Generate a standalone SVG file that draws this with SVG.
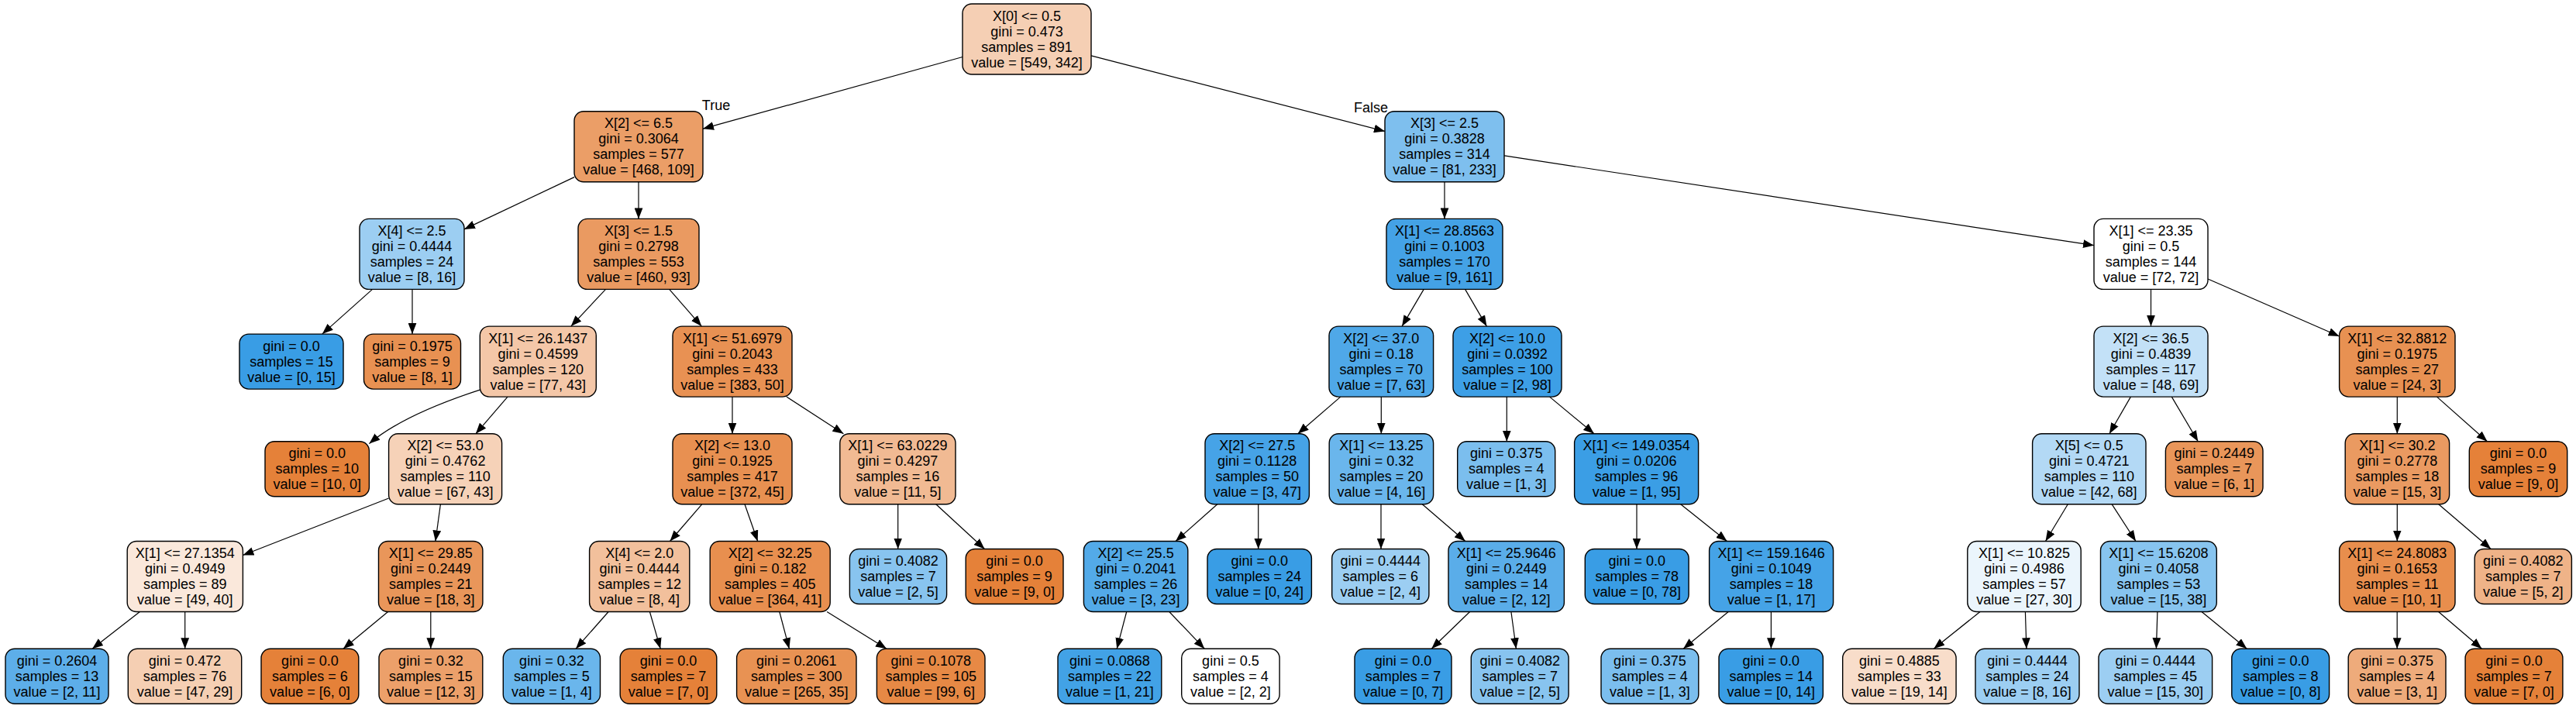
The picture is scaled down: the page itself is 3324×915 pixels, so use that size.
<svg xmlns="http://www.w3.org/2000/svg" width="3324" height="915" viewBox="0 0 3324 915">
<style>
.node rect{stroke:#000;stroke-width:1.4}
text{font-family:"Liberation Sans",Arial,Helvetica,sans-serif;font-size:18px;text-anchor:middle;fill:#000}
.edge line,.edge path{stroke:#000;stroke-width:1.2;fill:none;marker-end:url(#arr)}
</style>
<defs>
<marker id="arr" markerUnits="userSpaceOnUse" markerWidth="14" markerHeight="11" viewBox="0 0 13 10" refX="13" refY="5" orient="auto"><path d="M0,0 L13,5 L0,10 z" fill="#000"/></marker>
</defs>
<rect x="0" y="0" width="3324" height="915" fill="#fff"/>
<g id="connectors" class="edge">
<line x1="1242" y1="73.5" x2="907" y2="166.2"/>
<line x1="1408" y1="71.9" x2="1787" y2="169.4"/>
<line x1="741" y1="228.6" x2="599" y2="295.9"/>
<line x1="824" y1="234.7" x2="824" y2="282.4"/>
<line x1="1864" y1="234.7" x2="1864" y2="282.4"/>
<line x1="1941" y1="200.9" x2="2702" y2="316.7"/>
<line x1="480.5" y1="373.4" x2="415.8" y2="431.1"/>
<line x1="532" y1="373.4" x2="532" y2="431.1"/>
<line x1="781.5" y1="373.4" x2="736.8" y2="421.1"/>
<line x1="863.7" y1="373.4" x2="905.3" y2="421.1"/>
<line x1="1837.2" y1="373.4" x2="1809.1" y2="421.1"/>
<line x1="1890.6" y1="373.4" x2="1918.4" y2="421.1"/>
<line x1="2775.5" y1="373.4" x2="2775.5" y2="421.1"/>
<line x1="2849" y1="360" x2="3018.6" y2="434"/>
<path d="M619.3,503.1 Q519.9,535.5 476.4,572.6"/>
<line x1="655" y1="512.1" x2="613.9" y2="559.8"/>
<line x1="945" y1="512.1" x2="945" y2="559.8"/>
<line x1="1015" y1="512.1" x2="1088.4" y2="559.8"/>
<line x1="1729.8" y1="512.1" x2="1674.7" y2="559.8"/>
<line x1="1782.3" y1="512.1" x2="1782.3" y2="559.8"/>
<line x1="1944.3" y1="512.1" x2="1944.3" y2="569.8"/>
<line x1="1999.6" y1="512.1" x2="2057" y2="559.8"/>
<line x1="2749.4" y1="512.1" x2="2721.9" y2="559.8"/>
<line x1="2802.3" y1="512.1" x2="2836.3" y2="569.8"/>
<line x1="3093.3" y1="512.1" x2="3093.3" y2="559.8"/>
<line x1="3144.5" y1="512.1" x2="3209.5" y2="569.8"/>
<line x1="501.6" y1="643" x2="313.4" y2="716.5"/>
<line x1="568.4" y1="650.8" x2="561.9" y2="698.5"/>
<line x1="905.7" y1="650.8" x2="864.5" y2="698.5"/>
<line x1="961" y1="650.8" x2="977.7" y2="698.5"/>
<line x1="1158.7" y1="650.8" x2="1158.7" y2="708.5"/>
<line x1="1207.8" y1="650.8" x2="1270.5" y2="708.5"/>
<line x1="1570.8" y1="650.8" x2="1517" y2="698.5"/>
<line x1="1623.7" y1="650.8" x2="1623.7" y2="708.5"/>
<line x1="1782" y1="650.8" x2="1782" y2="708.5"/>
<line x1="1835.3" y1="650.8" x2="1890.8" y2="698.5"/>
<line x1="2112" y1="650.8" x2="2112" y2="708.5"/>
<line x1="2168.7" y1="650.8" x2="2228.5" y2="698.5"/>
<line x1="2668.3" y1="650.8" x2="2639.5" y2="698.5"/>
<line x1="2725.2" y1="650.8" x2="2756" y2="698.5"/>
<line x1="3093.3" y1="650.8" x2="3093.3" y2="698.5"/>
<line x1="3146.7" y1="650.8" x2="3214.2" y2="708.5"/>
<line x1="180.4" y1="789.5" x2="119.1" y2="837.2"/>
<line x1="238.7" y1="789.5" x2="238.7" y2="837.2"/>
<line x1="500.6" y1="789.5" x2="442.9" y2="837.2"/>
<line x1="555.8" y1="789.5" x2="555.8" y2="837.2"/>
<line x1="785.1" y1="789.5" x2="743.1" y2="837.2"/>
<line x1="838.4" y1="789.5" x2="852.2" y2="837.2"/>
<line x1="1005.8" y1="789.5" x2="1018.4" y2="837.2"/>
<line x1="1067.1" y1="789.5" x2="1144" y2="837.2"/>
<line x1="1453.7" y1="789.5" x2="1441.2" y2="837.2"/>
<line x1="1508.8" y1="789.5" x2="1554.2" y2="837.2"/>
<line x1="1896.6" y1="789.5" x2="1847.2" y2="837.2"/>
<line x1="1949.9" y1="789.5" x2="1956.4" y2="837.2"/>
<line x1="2230.2" y1="789.5" x2="2172.1" y2="837.2"/>
<line x1="2285.4" y1="789.5" x2="2285.4" y2="837.2"/>
<line x1="2555" y1="789.5" x2="2495.3" y2="837.2"/>
<line x1="2613.4" y1="789.5" x2="2614.9" y2="837.2"/>
<line x1="2783.9" y1="789.5" x2="2782.4" y2="837.2"/>
<line x1="2841" y1="789.5" x2="2899.3" y2="837.2"/>
<line x1="3093.2" y1="789.5" x2="3093.2" y2="837.2"/>
<line x1="3146.6" y1="789.5" x2="3202.4" y2="837.2"/>
</g>
<g id="edge-labels">
<text x="924" y="141.5">True</text>
<text x="1769" y="144.5">False</text>
</g>
<g id="n0" class="node" transform="translate(1325,5)"><rect x="-83" y="0" width="166" height="91" rx="12" fill="#f5cfb4"/><text><tspan x="0" y="21.5">X[0] &lt;= 0.5</tspan><tspan x="0" y="41.5">gini = 0.473</tspan><tspan x="0" y="61.5">samples = 891</tspan><tspan x="0" y="81.5">value = [549, 342]</tspan></text></g>
<g id="n1" class="node" transform="translate(824,143.7)"><rect x="-83" y="0" width="166" height="91" rx="12" fill="#eb9e67"/><text><tspan x="0" y="21.5">X[2] &lt;= 6.5</tspan><tspan x="0" y="41.5">gini = 0.3064</tspan><tspan x="0" y="61.5">samples = 577</tspan><tspan x="0" y="81.5">value = [468, 109]</tspan></text></g>
<g id="n2" class="node" transform="translate(1864,143.7)"><rect x="-77" y="0" width="154" height="91" rx="12" fill="#7ebfee"/><text><tspan x="0" y="21.5">X[3] &lt;= 2.5</tspan><tspan x="0" y="41.5">gini = 0.3828</tspan><tspan x="0" y="61.5">samples = 314</tspan><tspan x="0" y="81.5">value = [81, 233]</tspan></text></g>
<g id="n3" class="node" transform="translate(531.5,282.4)"><rect x="-67.5" y="0" width="135" height="91" rx="12" fill="#9ccef2"/><text><tspan x="0" y="21.5">X[4] &lt;= 2.5</tspan><tspan x="0" y="41.5">gini = 0.4444</tspan><tspan x="0" y="61.5">samples = 24</tspan><tspan x="0" y="81.5">value = [8, 16]</tspan></text></g>
<g id="n4" class="node" transform="translate(824,282.4)"><rect x="-78" y="0" width="156" height="91" rx="12" fill="#ea9a61"/><text><tspan x="0" y="21.5">X[3] &lt;= 1.5</tspan><tspan x="0" y="41.5">gini = 0.2798</tspan><tspan x="0" y="61.5">samples = 553</tspan><tspan x="0" y="81.5">value = [460, 93]</tspan></text></g>
<g id="n5" class="node" transform="translate(1864,282.4)"><rect x="-75" y="0" width="150" height="91" rx="12" fill="#44a2e6"/><text><tspan x="0" y="21.5">X[1] &lt;= 28.8563</tspan><tspan x="0" y="41.5">gini = 0.1003</tspan><tspan x="0" y="61.5">samples = 170</tspan><tspan x="0" y="81.5">value = [9, 161]</tspan></text></g>
<g id="n6" class="node" transform="translate(2775.5,282.4)"><rect x="-73.5" y="0" width="147" height="91" rx="12" fill="#ffffff"/><text><tspan x="0" y="21.5">X[1] &lt;= 23.35</tspan><tspan x="0" y="41.5">gini = 0.5</tspan><tspan x="0" y="61.5">samples = 144</tspan><tspan x="0" y="81.5">value = [72, 72]</tspan></text></g>
<g id="n7" class="node" transform="translate(376,431.1)"><rect x="-67" y="0" width="134" height="71" rx="12" fill="#399de5"/><text><tspan x="0" y="21.5">gini = 0.0</tspan><tspan x="0" y="41.5">samples = 15</tspan><tspan x="0" y="61.5">value = [0, 15]</tspan></text></g>
<g id="n8" class="node" transform="translate(532,431.1)"><rect x="-62.5" y="0" width="125" height="71" rx="12" fill="#e89152"/><text><tspan x="0" y="21.5">gini = 0.1975</tspan><tspan x="0" y="41.5">samples = 9</tspan><tspan x="0" y="61.5">value = [8, 1]</tspan></text></g>
<g id="n9" class="node" transform="translate(694.3,421.1)"><rect x="-75" y="0" width="150" height="91" rx="12" fill="#f4c7a8"/><text><tspan x="0" y="21.5">X[1] &lt;= 26.1437</tspan><tspan x="0" y="41.5">gini = 0.4599</tspan><tspan x="0" y="61.5">samples = 120</tspan><tspan x="0" y="81.5">value = [77, 43]</tspan></text></g>
<g id="n10" class="node" transform="translate(945,421.1)"><rect x="-77" y="0" width="154" height="91" rx="12" fill="#e89153"/><text><tspan x="0" y="21.5">X[1] &lt;= 51.6979</tspan><tspan x="0" y="41.5">gini = 0.2043</tspan><tspan x="0" y="61.5">samples = 433</tspan><tspan x="0" y="81.5">value = [383, 50]</tspan></text></g>
<g id="n11" class="node" transform="translate(1782.3,421.1)"><rect x="-67.3" y="0" width="134.6" height="91" rx="12" fill="#4fa8e8"/><text><tspan x="0" y="21.5">X[2] &lt;= 37.0</tspan><tspan x="0" y="41.5">gini = 0.18</tspan><tspan x="0" y="61.5">samples = 70</tspan><tspan x="0" y="81.5">value = [7, 63]</tspan></text></g>
<g id="n12" class="node" transform="translate(1945,421.1)"><rect x="-70" y="0" width="140" height="91" rx="12" fill="#3d9fe6"/><text><tspan x="0" y="21.5">X[2] &lt;= 10.0</tspan><tspan x="0" y="41.5">gini = 0.0392</tspan><tspan x="0" y="61.5">samples = 100</tspan><tspan x="0" y="81.5">value = [2, 98]</tspan></text></g>
<g id="n13" class="node" transform="translate(2775.5,421.1)"><rect x="-73.5" y="0" width="147" height="91" rx="12" fill="#c3e1f7"/><text><tspan x="0" y="21.5">X[2] &lt;= 36.5</tspan><tspan x="0" y="41.5">gini = 0.4839</tspan><tspan x="0" y="61.5">samples = 117</tspan><tspan x="0" y="81.5">value = [48, 69]</tspan></text></g>
<g id="n14" class="node" transform="translate(3093.3,421.1)"><rect x="-74.7" y="0" width="149.4" height="91" rx="12" fill="#e89152"/><text><tspan x="0" y="21.5">X[1] &lt;= 32.8812</tspan><tspan x="0" y="41.5">gini = 0.1975</tspan><tspan x="0" y="61.5">samples = 27</tspan><tspan x="0" y="81.5">value = [24, 3]</tspan></text></g>
<g id="n15" class="node" transform="translate(409.2,569.8)"><rect x="-67.2" y="0" width="134.4" height="71" rx="12" fill="#e58139"/><text><tspan x="0" y="21.5">gini = 0.0</tspan><tspan x="0" y="41.5">samples = 10</tspan><tspan x="0" y="61.5">value = [10, 0]</tspan></text></g>
<g id="n16" class="node" transform="translate(574.6,559.8)"><rect x="-73" y="0" width="146" height="91" rx="12" fill="#f6d2b8"/><text><tspan x="0" y="21.5">X[2] &lt;= 53.0</tspan><tspan x="0" y="41.5">gini = 0.4762</tspan><tspan x="0" y="61.5">samples = 110</tspan><tspan x="0" y="81.5">value = [67, 43]</tspan></text></g>
<g id="n17" class="node" transform="translate(945,559.8)"><rect x="-77" y="0" width="154" height="91" rx="12" fill="#e89051"/><text><tspan x="0" y="21.5">X[2] &lt;= 13.0</tspan><tspan x="0" y="41.5">gini = 0.1925</tspan><tspan x="0" y="61.5">samples = 417</tspan><tspan x="0" y="81.5">value = [372, 45]</tspan></text></g>
<g id="n18" class="node" transform="translate(1158.4,559.8)"><rect x="-74.6" y="0" width="149.2" height="91" rx="12" fill="#f1ba93"/><text><tspan x="0" y="21.5">X[1] &lt;= 63.0229</tspan><tspan x="0" y="41.5">gini = 0.4297</tspan><tspan x="0" y="61.5">samples = 16</tspan><tspan x="0" y="81.5">value = [11, 5]</tspan></text></g>
<g id="n19" class="node" transform="translate(1622.2,559.8)"><rect x="-67.2" y="0" width="134.4" height="91" rx="12" fill="#46a3e7"/><text><tspan x="0" y="21.5">X[2] &lt;= 27.5</tspan><tspan x="0" y="41.5">gini = 0.1128</tspan><tspan x="0" y="61.5">samples = 50</tspan><tspan x="0" y="81.5">value = [3, 47]</tspan></text></g>
<g id="n20" class="node" transform="translate(1782.4,559.8)"><rect x="-67.2" y="0" width="134.4" height="91" rx="12" fill="#6ab6ec"/><text><tspan x="0" y="21.5">X[1] &lt;= 13.25</tspan><tspan x="0" y="41.5">gini = 0.32</tspan><tspan x="0" y="61.5">samples = 20</tspan><tspan x="0" y="81.5">value = [4, 16]</tspan></text></g>
<g id="n21" class="node" transform="translate(1943.7,569.8)"><rect x="-63" y="0" width="126" height="71" rx="12" fill="#7bbeee"/><text><tspan x="0" y="21.5">gini = 0.375</tspan><tspan x="0" y="41.5">samples = 4</tspan><tspan x="0" y="61.5">value = [1, 3]</tspan></text></g>
<g id="n22" class="node" transform="translate(2111.6,559.8)"><rect x="-80" y="0" width="160" height="91" rx="12" fill="#3b9ee5"/><text><tspan x="0" y="21.5">X[1] &lt;= 149.0354</tspan><tspan x="0" y="41.5">gini = 0.0206</tspan><tspan x="0" y="61.5">samples = 96</tspan><tspan x="0" y="81.5">value = [1, 95]</tspan></text></g>
<g id="n23" class="node" transform="translate(2695.8,559.8)"><rect x="-73.2" y="0" width="146.4" height="91" rx="12" fill="#b3d9f5"/><text><tspan x="0" y="21.5">X[5] &lt;= 0.5</tspan><tspan x="0" y="41.5">gini = 0.4721</tspan><tspan x="0" y="61.5">samples = 110</tspan><tspan x="0" y="81.5">value = [42, 68]</tspan></text></g>
<g id="n24" class="node" transform="translate(2857.2,569.8)"><rect x="-62.8" y="0" width="125.6" height="71" rx="12" fill="#e9965a"/><text><tspan x="0" y="21.5">gini = 0.2449</tspan><tspan x="0" y="41.5">samples = 7</tspan><tspan x="0" y="61.5">value = [6, 1]</tspan></text></g>
<g id="n25" class="node" transform="translate(3093.4,559.8)"><rect x="-67.2" y="0" width="134.4" height="91" rx="12" fill="#ea9a61"/><text><tspan x="0" y="21.5">X[1] &lt;= 30.2</tspan><tspan x="0" y="41.5">gini = 0.2778</tspan><tspan x="0" y="61.5">samples = 18</tspan><tspan x="0" y="81.5">value = [15, 3]</tspan></text></g>
<g id="n26" class="node" transform="translate(3249.5,569.8)"><rect x="-63.2" y="0" width="126.4" height="71" rx="12" fill="#e58139"/><text><tspan x="0" y="21.5">gini = 0.0</tspan><tspan x="0" y="41.5">samples = 9</tspan><tspan x="0" y="61.5">value = [9, 0]</tspan></text></g>
<g id="n27" class="node" transform="translate(238.8,698.5)"><rect x="-74.6" y="0" width="149.2" height="91" rx="12" fill="#fae8db"/><text><tspan x="0" y="21.5">X[1] &lt;= 27.1354</tspan><tspan x="0" y="41.5">gini = 0.4949</tspan><tspan x="0" y="61.5">samples = 89</tspan><tspan x="0" y="81.5">value = [49, 40]</tspan></text></g>
<g id="n28" class="node" transform="translate(555.7,698.5)"><rect x="-67.2" y="0" width="134.4" height="91" rx="12" fill="#e9965a"/><text><tspan x="0" y="21.5">X[1] &lt;= 29.85</tspan><tspan x="0" y="41.5">gini = 0.2449</tspan><tspan x="0" y="61.5">samples = 21</tspan><tspan x="0" y="81.5">value = [18, 3]</tspan></text></g>
<g id="n29" class="node" transform="translate(825.2,698.5)"><rect x="-64.6" y="0" width="129.2" height="91" rx="12" fill="#f2c09c"/><text><tspan x="0" y="21.5">X[4] &lt;= 2.0</tspan><tspan x="0" y="41.5">gini = 0.4444</tspan><tspan x="0" y="61.5">samples = 12</tspan><tspan x="0" y="81.5">value = [8, 4]</tspan></text></g>
<g id="n30" class="node" transform="translate(993.7,698.5)"><rect x="-77.5" y="0" width="155" height="91" rx="12" fill="#e88f4f"/><text><tspan x="0" y="21.5">X[2] &lt;= 32.25</tspan><tspan x="0" y="41.5">gini = 0.182</tspan><tspan x="0" y="61.5">samples = 405</tspan><tspan x="0" y="81.5">value = [364, 41]</tspan></text></g>
<g id="n31" class="node" transform="translate(1159,708.5)"><rect x="-62.6" y="0" width="125.2" height="71" rx="12" fill="#88c4ef"/><text><tspan x="0" y="21.5">gini = 0.4082</tspan><tspan x="0" y="41.5">samples = 7</tspan><tspan x="0" y="61.5">value = [2, 5]</tspan></text></g>
<g id="n32" class="node" transform="translate(1309.1,708.5)"><rect x="-62.9" y="0" width="125.8" height="71" rx="12" fill="#e58139"/><text><tspan x="0" y="21.5">gini = 0.0</tspan><tspan x="0" y="41.5">samples = 9</tspan><tspan x="0" y="61.5">value = [9, 0]</tspan></text></g>
<g id="n33" class="node" transform="translate(1465.6,698.5)"><rect x="-67.2" y="0" width="134.4" height="91" rx="12" fill="#53aae8"/><text><tspan x="0" y="21.5">X[2] &lt;= 25.5</tspan><tspan x="0" y="41.5">gini = 0.2041</tspan><tspan x="0" y="61.5">samples = 26</tspan><tspan x="0" y="81.5">value = [3, 23]</tspan></text></g>
<g id="n34" class="node" transform="translate(1625.2,708.5)"><rect x="-67.2" y="0" width="134.4" height="71" rx="12" fill="#399de5"/><text><tspan x="0" y="21.5">gini = 0.0</tspan><tspan x="0" y="41.5">samples = 24</tspan><tspan x="0" y="61.5">value = [0, 24]</tspan></text></g>
<g id="n35" class="node" transform="translate(1781.3,708.5)"><rect x="-62.6" y="0" width="125.2" height="71" rx="12" fill="#9ccef2"/><text><tspan x="0" y="21.5">gini = 0.4444</tspan><tspan x="0" y="41.5">samples = 6</tspan><tspan x="0" y="61.5">value = [2, 4]</tspan></text></g>
<g id="n36" class="node" transform="translate(1943.7,698.5)"><rect x="-74.7" y="0" width="149.4" height="91" rx="12" fill="#5aade9"/><text><tspan x="0" y="21.5">X[1] &lt;= 25.9646</tspan><tspan x="0" y="41.5">gini = 0.2449</tspan><tspan x="0" y="61.5">samples = 14</tspan><tspan x="0" y="81.5">value = [2, 12]</tspan></text></g>
<g id="n37" class="node" transform="translate(2112.2,708.5)"><rect x="-66.9" y="0" width="133.8" height="71" rx="12" fill="#399de5"/><text><tspan x="0" y="21.5">gini = 0.0</tspan><tspan x="0" y="41.5">samples = 78</tspan><tspan x="0" y="61.5">value = [0, 78]</tspan></text></g>
<g id="n38" class="node" transform="translate(2285.6,698.5)"><rect x="-80" y="0" width="160" height="91" rx="12" fill="#45a3e7"/><text><tspan x="0" y="21.5">X[1] &lt;= 159.1646</tspan><tspan x="0" y="41.5">gini = 0.1049</tspan><tspan x="0" y="61.5">samples = 18</tspan><tspan x="0" y="81.5">value = [1, 17]</tspan></text></g>
<g id="n39" class="node" transform="translate(2612,698.5)"><rect x="-73.2" y="0" width="146.4" height="91" rx="12" fill="#ebf5fc"/><text><tspan x="0" y="21.5">X[1] &lt;= 10.825</tspan><tspan x="0" y="41.5">gini = 0.4986</tspan><tspan x="0" y="61.5">samples = 57</tspan><tspan x="0" y="81.5">value = [27, 30]</tspan></text></g>
<g id="n40" class="node" transform="translate(2785.4,698.5)"><rect x="-74.9" y="0" width="149.8" height="91" rx="12" fill="#87c4ef"/><text><tspan x="0" y="21.5">X[1] &lt;= 15.6208</tspan><tspan x="0" y="41.5">gini = 0.4058</tspan><tspan x="0" y="61.5">samples = 53</tspan><tspan x="0" y="81.5">value = [15, 38]</tspan></text></g>
<g id="n41" class="node" transform="translate(3093.3,698.5)"><rect x="-74.7" y="0" width="149.4" height="91" rx="12" fill="#e88e4d"/><text><tspan x="0" y="21.5">X[1] &lt;= 24.8083</tspan><tspan x="0" y="41.5">gini = 0.1653</tspan><tspan x="0" y="61.5">samples = 11</tspan><tspan x="0" y="81.5">value = [10, 1]</tspan></text></g>
<g id="n42" class="node" transform="translate(3255.8,708.5)"><rect x="-62.6" y="0" width="125.2" height="71" rx="12" fill="#efb388"/><text><tspan x="0" y="21.5">gini = 0.4082</tspan><tspan x="0" y="41.5">samples = 7</tspan><tspan x="0" y="61.5">value = [5, 2]</tspan></text></g>
<g id="n43" class="node" transform="translate(73.5,837.2)"><rect x="-66.5" y="0" width="133" height="71" rx="12" fill="#5daee9"/><text><tspan x="0" y="21.5">gini = 0.2604</tspan><tspan x="0" y="41.5">samples = 13</tspan><tspan x="0" y="61.5">value = [2, 11]</tspan></text></g>
<g id="n44" class="node" transform="translate(238.5,837.2)"><rect x="-73.2" y="0" width="146.4" height="71" rx="12" fill="#f5cfb3"/><text><tspan x="0" y="21.5">gini = 0.472</tspan><tspan x="0" y="41.5">samples = 76</tspan><tspan x="0" y="61.5">value = [47, 29]</tspan></text></g>
<g id="n45" class="node" transform="translate(399.9,837.2)"><rect x="-62.9" y="0" width="125.8" height="71" rx="12" fill="#e58139"/><text><tspan x="0" y="21.5">gini = 0.0</tspan><tspan x="0" y="41.5">samples = 6</tspan><tspan x="0" y="61.5">value = [6, 0]</tspan></text></g>
<g id="n46" class="node" transform="translate(555.9,837.2)"><rect x="-66.9" y="0" width="133.8" height="71" rx="12" fill="#eca06a"/><text><tspan x="0" y="21.5">gini = 0.32</tspan><tspan x="0" y="41.5">samples = 15</tspan><tspan x="0" y="61.5">value = [12, 3]</tspan></text></g>
<g id="n47" class="node" transform="translate(711.9,837.2)"><rect x="-62.6" y="0" width="125.2" height="71" rx="12" fill="#6ab6ec"/><text><tspan x="0" y="21.5">gini = 0.32</tspan><tspan x="0" y="41.5">samples = 5</tspan><tspan x="0" y="61.5">value = [1, 4]</tspan></text></g>
<g id="n48" class="node" transform="translate(862.5,837.2)"><rect x="-62.3" y="0" width="124.6" height="71" rx="12" fill="#e58139"/><text><tspan x="0" y="21.5">gini = 0.0</tspan><tspan x="0" y="41.5">samples = 7</tspan><tspan x="0" y="61.5">value = [7, 0]</tspan></text></g>
<g id="n49" class="node" transform="translate(1027.8,837.2)"><rect x="-77.2" y="0" width="154.4" height="71" rx="12" fill="#e89253"/><text><tspan x="0" y="21.5">gini = 0.2061</tspan><tspan x="0" y="41.5">samples = 300</tspan><tspan x="0" y="61.5">value = [265, 35]</tspan></text></g>
<g id="n50" class="node" transform="translate(1201.2,837.2)"><rect x="-69.8" y="0" width="139.6" height="71" rx="12" fill="#e78945"/><text><tspan x="0" y="21.5">gini = 0.1078</tspan><tspan x="0" y="41.5">samples = 105</tspan><tspan x="0" y="61.5">value = [99, 6]</tspan></text></g>
<g id="n51" class="node" transform="translate(1431.9,837.2)"><rect x="-66.9" y="0" width="133.8" height="71" rx="12" fill="#42a2e6"/><text><tspan x="0" y="21.5">gini = 0.0868</tspan><tspan x="0" y="41.5">samples = 22</tspan><tspan x="0" y="61.5">value = [1, 21]</tspan></text></g>
<g id="n52" class="node" transform="translate(1587.9,837.2)"><rect x="-63.2" y="0" width="126.4" height="71" rx="12" fill="#ffffff"/><text><tspan x="0" y="21.5">gini = 0.5</tspan><tspan x="0" y="41.5">samples = 4</tspan><tspan x="0" y="61.5">value = [2, 2]</tspan></text></g>
<g id="n53" class="node" transform="translate(1810.5,837.2)"><rect x="-62.5" y="0" width="125" height="71" rx="12" fill="#399de5"/><text><tspan x="0" y="21.5">gini = 0.0</tspan><tspan x="0" y="41.5">samples = 7</tspan><tspan x="0" y="61.5">value = [0, 7]</tspan></text></g>
<g id="n54" class="node" transform="translate(1961.2,837.2)"><rect x="-62.9" y="0" width="125.8" height="71" rx="12" fill="#88c4ef"/><text><tspan x="0" y="21.5">gini = 0.4082</tspan><tspan x="0" y="41.5">samples = 7</tspan><tspan x="0" y="61.5">value = [2, 5]</tspan></text></g>
<g id="n55" class="node" transform="translate(2128.9,837.2)"><rect x="-62.9" y="0" width="125.8" height="71" rx="12" fill="#7bbeee"/><text><tspan x="0" y="21.5">gini = 0.375</tspan><tspan x="0" y="41.5">samples = 4</tspan><tspan x="0" y="61.5">value = [1, 3]</tspan></text></g>
<g id="n56" class="node" transform="translate(2285.2,837.2)"><rect x="-67.2" y="0" width="134.4" height="71" rx="12" fill="#399de5"/><text><tspan x="0" y="21.5">gini = 0.0</tspan><tspan x="0" y="41.5">samples = 14</tspan><tspan x="0" y="61.5">value = [0, 14]</tspan></text></g>
<g id="n57" class="node" transform="translate(2450.9,837.2)"><rect x="-73.2" y="0" width="146.4" height="71" rx="12" fill="#f8ddca"/><text><tspan x="0" y="21.5">gini = 0.4885</tspan><tspan x="0" y="41.5">samples = 33</tspan><tspan x="0" y="61.5">value = [19, 14]</tspan></text></g>
<g id="n58" class="node" transform="translate(2616,837.2)"><rect x="-67" y="0" width="134" height="71" rx="12" fill="#9ccef2"/><text><tspan x="0" y="21.5">gini = 0.4444</tspan><tspan x="0" y="41.5">samples = 24</tspan><tspan x="0" y="61.5">value = [8, 16]</tspan></text></g>
<g id="n59" class="node" transform="translate(2781.3,837.2)"><rect x="-73.3" y="0" width="146.6" height="71" rx="12" fill="#9ccef2"/><text><tspan x="0" y="21.5">gini = 0.4444</tspan><tspan x="0" y="41.5">samples = 45</tspan><tspan x="0" y="61.5">value = [15, 30]</tspan></text></g>
<g id="n60" class="node" transform="translate(2942.7,837.2)"><rect x="-62.9" y="0" width="125.8" height="71" rx="12" fill="#399de5"/><text><tspan x="0" y="21.5">gini = 0.0</tspan><tspan x="0" y="41.5">samples = 8</tspan><tspan x="0" y="61.5">value = [0, 8]</tspan></text></g>
<g id="n61" class="node" transform="translate(3093.1,837.2)"><rect x="-62.9" y="0" width="125.8" height="71" rx="12" fill="#eeab7b"/><text><tspan x="0" y="21.5">gini = 0.375</tspan><tspan x="0" y="41.5">samples = 4</tspan><tspan x="0" y="61.5">value = [3, 1]</tspan></text></g>
<g id="n62" class="node" transform="translate(3244,837.2)"><rect x="-62.9" y="0" width="125.8" height="71" rx="12" fill="#e58139"/><text><tspan x="0" y="21.5">gini = 0.0</tspan><tspan x="0" y="41.5">samples = 7</tspan><tspan x="0" y="61.5">value = [7, 0]</tspan></text></g>
</svg>
